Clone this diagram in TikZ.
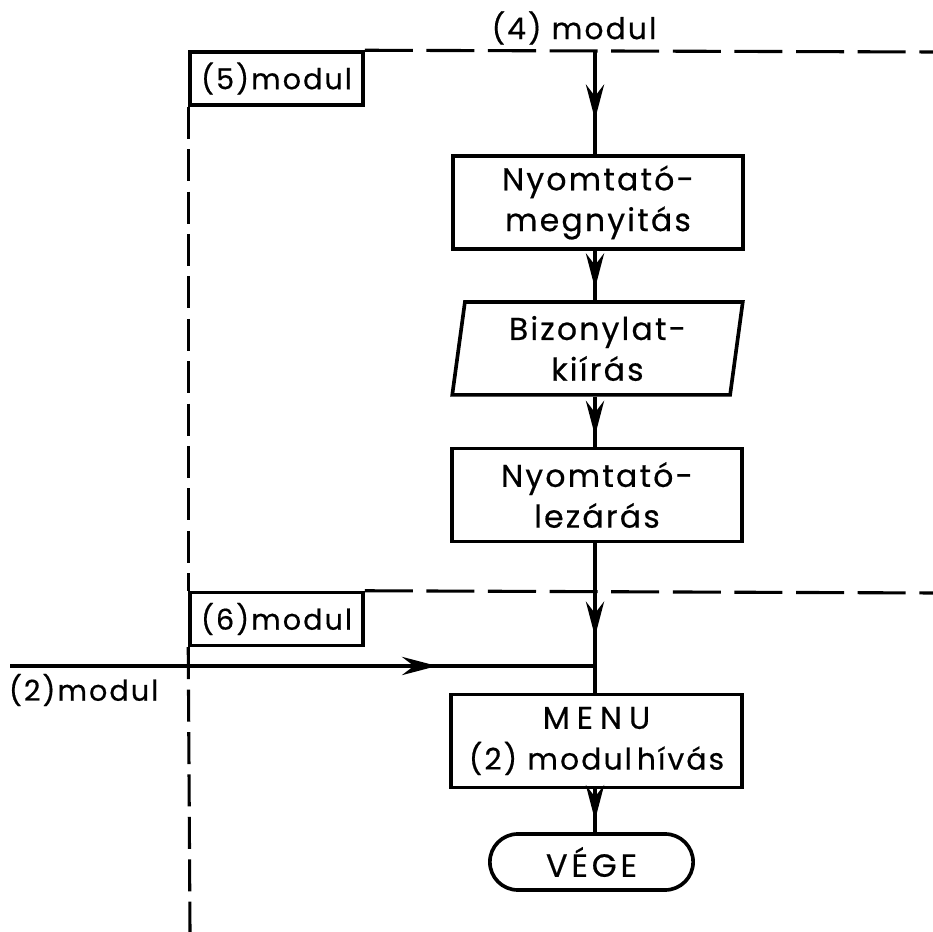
\documentclass[tikz,border=0pt]{standalone}
\usepackage{fontspec}
\setmainfont{Poppins}[LetterSpace=7, FakeBold=0.5]
\usetikzlibrary{arrows.meta,shapes.geometric,decorations.markings}

\definecolor{arrowgreen}{RGB}{28,58,44}

\begin{document}
\begin{tikzpicture}[x=0.0125cm, y=-0.0125cm, line width=1.1pt,
    box/.style={draw, line width=1.3pt, minimum width=3.63cm, minimum height=1.16cm,
                align=center, font=\fontsize{11.2}{14.5}\selectfont, inner sep=0pt},
    modbox/.style={draw, line width=1.3pt, minimum width=2.16cm, minimum height=0.66cm,
                   font=\fontsize{10.2}{12}\selectfont, inner sep=0pt},
    border/.style={dash pattern=on 0.6cm off 0.17cm},
    sideborder/.style={dash pattern=on 0.4cm off 0.13cm},
    midarrow/.style={postaction={decorate}, decoration={markings,
        mark=at position #1 with {\arrow[fill=arrowgreen, draw=black, line width=0.6pt]
        {Stealth[length=4.4mm, width=2.3mm, inset=1.5mm]}}}}]
  \useasboundingbox (0,0) rectangle (933,932);

  % module frames
  \node[modbox] (mod5) at (276.5,78.5) {(5)modul};
  \node[modbox] (mod6) at (276.5,619) {(6)modul};
  \draw[border] (mod5.north east) -- (933,52);
  \draw[border] (mod6.north east) -- (933,593);
  \draw[sideborder] (mod5.south west) -- (mod6.north west);
  \draw[sideborder] (mod6.south west) -- (190,932);

  % flow
  \node[font=\fontsize{10.6}{12}\selectfont] (mod4) at (574,28) {(4) modul};
  \coordinate (top) at (595,52);
  \node[box] (nyit) at (598,202.5) {Nyomtató-\\megnyitás};
  \node[draw, trapezium, trapezium left angle=79, trapezium right angle=101,
        trapezium stretches body, line width=1.3pt, minimum width=3.63cm,
        minimum height=1.16cm, align=center, font=\fontsize{11.2}{14.5}\selectfont,
        inner sep=0pt] (kiir) at (597.5,348.5) {Bizonylat-\\kiírás};
  \node[box] (zar) at (597,495) {Nyomtató-\\lezárás};
  \coordinate (join) at (595,666);
  \coordinate (from2) at (10,666);
  \node[font=\fontsize{10.2}{12}\selectfont, anchor=west] (mod2) at (-2,690) {(2)modul};
  \node[box] (menu) at (596.5,741)
    {{\addfontfeature{LetterSpace=22}MENU}\\{\fontsize{10.6}{12}\selectfont(2) modul\,hívás}};
  \node[draw, line width=1.3pt, rounded corners=0.35cm, minimum width=2.54cm,
        minimum height=0.7cm, font=\fontsize{11.4}{12}\selectfont\addfontfeature{LetterSpace=12}]
        (vege) at (591.5,862) {VÉGE};

  \draw[midarrow=0.66] (top) -- (nyit.north -| top);
  \draw[midarrow=0.76] (nyit.south -| top) -- (kiir.north -| top);
  \draw[midarrow=0.78] (kiir.south -| top) -- (zar.north -| top);
  \draw[midarrow=0.76] (zar.south -| top) -- (join);
  \draw (join) -- (menu.north -| join);
  \draw[midarrow=0.73] (from2) -- (join);
  \draw[midarrow=0.72] (menu.south -| top) -- (vege.north -| top);
\end{tikzpicture}
\end{document}
